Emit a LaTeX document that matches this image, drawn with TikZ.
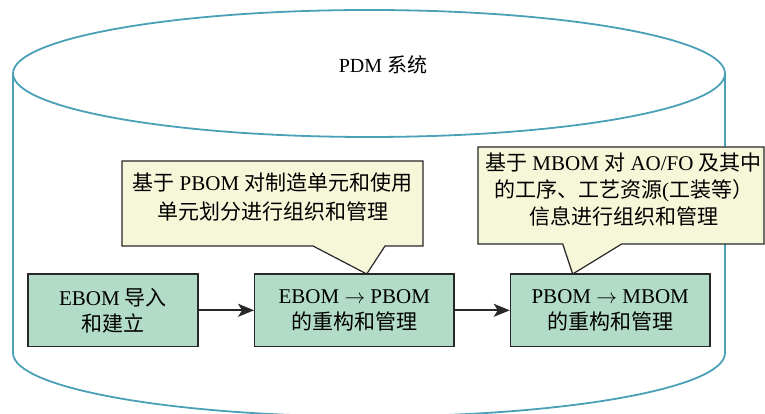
\documentclass[tikz,border=0pt]{standalone}
\usepackage{fontspec}
\setmainfont{Liberation Serif}
\newfontfamily\cjkf{Noto Sans CJK SC}
\newcommand{\zhs}[1]{{\cjkf #1}}
\usetikzlibrary{arrows.meta}
\definecolor{cylblue}{RGB}{74,160,182}
\definecolor{boxgreen}{RGB}{178,220,200}
\definecolor{calloutyellow}{RGB}{246,246,216}
\definecolor{edgegray}{RGB}{40,40,40}
\begin{document}
\begin{tikzpicture}[x=1pt,y=1pt,
  cyl/.style={draw=cylblue,line width=1.8pt},
  stepbox/.style={draw=edgegray,fill=boxgreen,line width=1.2pt,minimum height=72.7pt,inner sep=0pt,align=center,font=\fontsize{21}{26}\selectfont},
  callout/.style={draw=edgegray,fill=calloutyellow,line width=1.2pt,line join=miter},
  calltext/.style={align=center,inner sep=0pt},
  flow/.style={draw=edgegray,line width=1.8pt,-{Stealth[length=16pt,width=13pt,inset=4pt]}}]
\useasboundingbox (0,0) rectangle (765,414);
\clip (0,0) rectangle (765,414);
% cylinder
\draw[cyl] (369,340.5) ellipse [x radius=356pt, y radius=63.5pt];
\draw[cyl] (13,340.5) -- (13,61) arc[start angle=180, end angle=360, x radius=356pt, y radius=63.5pt] -- (725,340.5);
\node (pdm) at (383,349) {\fontsize{20}{24}\selectfont PDM \zhs{系统}};
% callouts
\draw[callout] (122,253) -- (423,253) -- (423,168) -- (385,168) -- (366.7,140) -- (313,168) -- (122,168) -- cycle;
\node[calltext,font=\fontsize{21}{29}\selectfont] (c1) at (272.5,216.5) {\zhs{基于} PBOM \zhs{对制造单元和使用}\\\zhs{单元划分进行组织和管理}};
\draw[callout] (478,267) -- (764,267) -- (764,170) -- (621.7,170) -- (572.7,140) -- (562.7,170) -- (478,170) -- cycle;
\node[calltext,font=\fontsize{21}{27}\selectfont] (c2) at (623.5,224) {\zhs{基于} MBOM \zhs{对} AO/FO \zhs{及其中}\\\zhs{的工序、工艺资源}(\zhs{工装等）}\\\zhs{信息进行组织和管理}};
% boxes
\node[stepbox,minimum width=170pt] (ebom) at (113,103.7) {EBOM \zhs{导入}\\\zhs{和建立}};
\node[stepbox,minimum width=199.3pt] (pbom) at (354.3,103.7) {EBOM $\rightarrow$ PBOM\\\zhs{的重构和管理}};
\node[stepbox,minimum width=199.7pt] (mbom) at (610.2,103.7) {PBOM $\rightarrow$ MBOM\\\zhs{的重构和管理}};
\draw[flow] (ebom) -- (pbom);
\draw[flow] (pbom) -- (mbom);
\end{tikzpicture}
\end{document}
